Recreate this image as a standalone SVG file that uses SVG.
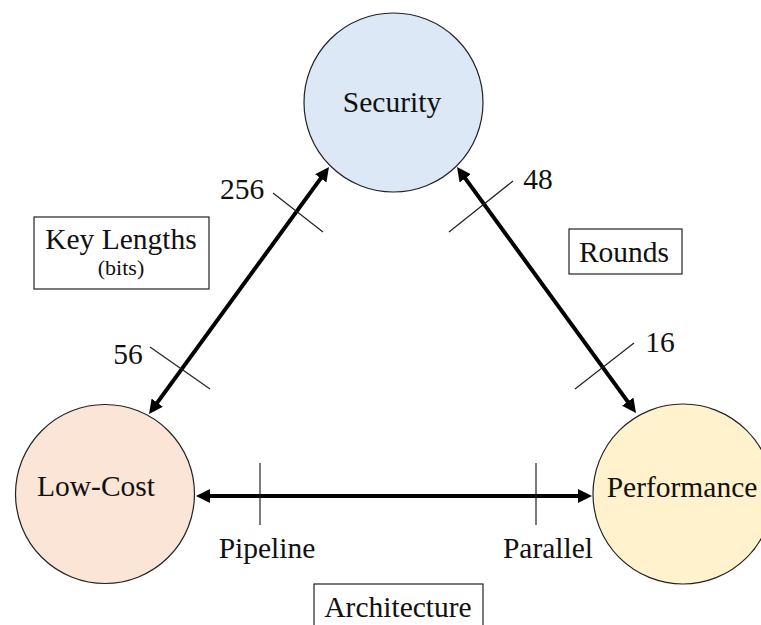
<svg xmlns="http://www.w3.org/2000/svg" width="761" height="625" viewBox="0 0 761 625">
<style>
text{font-family:"Liberation Serif","Times New Roman",serif;fill:#111;}
.node circle{stroke:#222;stroke-width:1.2;}
.lbl{font-size:29.5px;text-anchor:middle;}
.conn{stroke:#000;stroke-width:4;fill:none;}
.tick{stroke:#222;stroke-width:1.2;}
.box{fill:#fff;stroke:#222;stroke-width:1.2;}
</style>
<defs>
<marker id="ah" viewBox="0 0 14 14" refX="4" refY="7" markerWidth="14" markerHeight="14" markerUnits="userSpaceOnUse" orient="auto-start-reverse">
<path d="M0,0 L14,7 L0,14 z" fill="#000"/>
</marker>
</defs>
<g id="security" class="node">
<circle cx="393.5" cy="102.5" r="89.5" fill="#dce8f5"/>
<text class="lbl" x="392" y="112">Security</text>
</g>
<g id="low-cost" class="node">
<circle cx="105" cy="494" r="89.5" fill="#fbe5d6"/>
<text class="lbl" x="96" y="496">Low-Cost</text>
</g>
<g id="performance" class="node">
<circle cx="683" cy="494" r="90" fill="#fff2cc"/>
<text class="lbl" x="682" y="497">Performance</text>
</g>
<g id="connectors">
<line class="conn" x1="154.9" y1="405.9" x2="323.1" y2="175.1" marker-start="url(#ah)" marker-end="url(#ah)"/>
<line class="conn" x1="462.9" y1="175.1" x2="630.1" y2="404.9" marker-start="url(#ah)" marker-end="url(#ah)"/>
<line class="conn" x1="206" y1="496" x2="582" y2="496" marker-start="url(#ah)" marker-end="url(#ah)"/>
<line class="tick" x1="273" y1="193" x2="323" y2="232"/>
<line class="tick" x1="150" y1="347" x2="210" y2="389"/>
<line class="tick" x1="513" y1="181" x2="449" y2="232"/>
<line class="tick" x1="634" y1="343" x2="575" y2="389"/>
<line class="tick" x1="260" y1="463" x2="260" y2="525"/>
<line class="tick" x1="536" y1="463" x2="536" y2="525"/>
</g>
<g id="tick-labels">
<text class="lbl" x="242" y="199">256</text>
<text class="lbl" x="128" y="364">56</text>
<text class="lbl" x="538" y="189">48</text>
<text class="lbl" x="660" y="352">16</text>
<text class="lbl" x="267" y="558">Pipeline</text>
<text class="lbl" x="548" y="558">Parallel</text>
</g>
<g id="key-lengths">
<rect class="box" x="34" y="217" width="175" height="72"/>
<text class="lbl" x="121" y="249">Key Lengths</text>
<text class="lbl" x="121" y="275" style="font-size:22px">(bits)</text>
</g>
<g id="rounds">
<rect class="box" x="569" y="229" width="113" height="45"/>
<text class="lbl" x="624" y="262">Rounds</text>
</g>
<g id="architecture">
<rect class="box" x="314" y="584" width="169" height="50"/>
<text class="lbl" x="398" y="617">Architecture</text>
</g>
</svg>
